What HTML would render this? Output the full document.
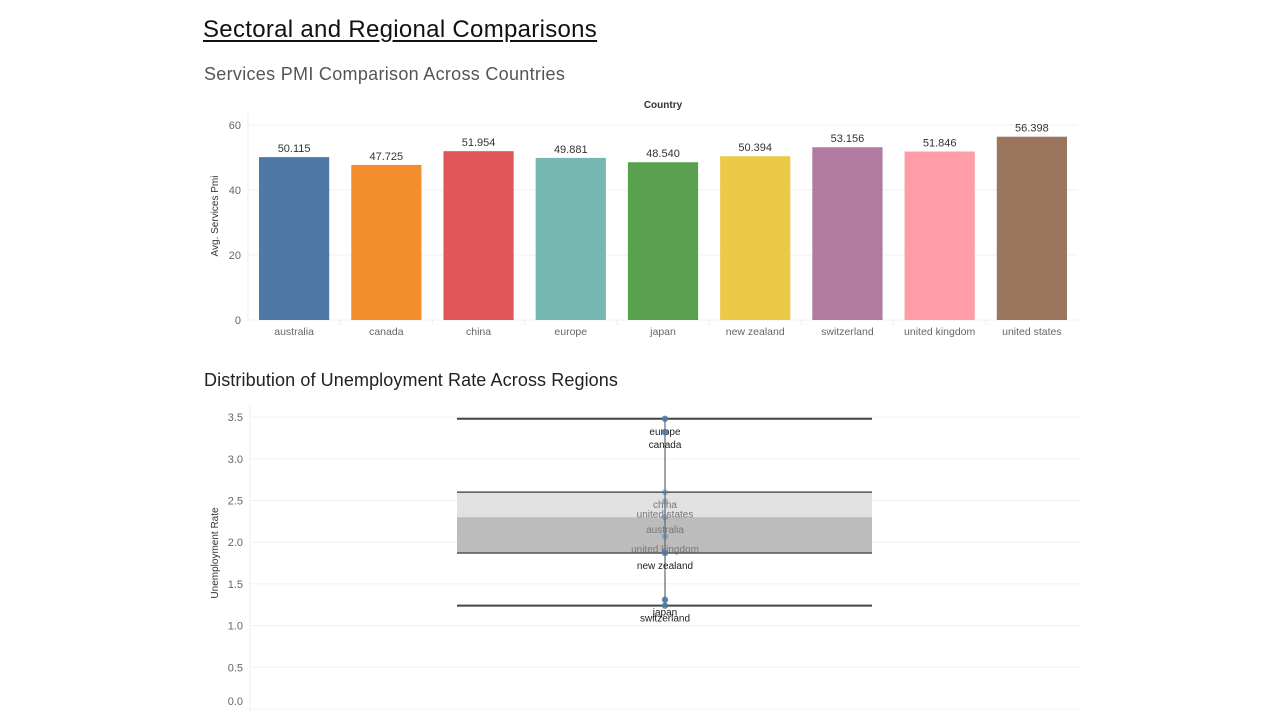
<!DOCTYPE html>
<html><head><meta charset="utf-8">
<style>
body{margin:0;width:1280px;height:720px;background:#fff;font-family:"Liberation Sans",sans-serif;overflow:hidden;position:relative}
.t{position:absolute;white-space:nowrap}
</style></head><body>
<div class="t" style="left:203px;top:16px;font-size:24px;letter-spacing:0.3px;color:#111;text-decoration:underline;text-underline-offset:3px">Sectoral and Regional Comparisons</div>
<div class="t" style="left:204px;top:64px;font-size:18px;letter-spacing:0.3px;color:#555">Services PMI Comparison Across Countries</div>
<div class="t" style="left:204px;top:370px;font-size:18px;letter-spacing:0.1px;color:#222">Distribution of Unemployment Rate Across Regions</div>
<svg id="bar" width="1280" height="720" style="position:absolute;left:0;top:0"></svg>
<script>
const categories=["australia","canada","china","europe","japan","new zealand","switzerland","united kingdom","united states"];
const pmiValues=[50.115,47.725,51.954,49.881,48.540,50.394,53.156,51.846,56.398];
const barColors=["#4e79a7","#f28e2b","#e15759","#76b7b2","#59a14f","#edc948","#b07aa1","#ff9da7","#9c755f"];
const pmiTicks=[0,20,40,60];
const unempRegions=["europe","canada","china","united states","australia","united kingdom","new zealand","japan","switzerland"];
const unempValues=[3.48,3.32,2.60,2.49,2.30,2.07,1.87,1.31,1.24];
const unempTicks=[0,0.5,1,1.5,2,2.5,3,3.5];

const svg=document.getElementById('bar');
const NS="http://www.w3.org/2000/svg";
function mk(tag,attrs,name,parent){const e=document.createElementNS(NS,tag);for(const k in attrs)e.setAttribute(k,attrs[k]);


(parent||svg).appendChild(e);return e;}
function txt(x,y,s,size,fill,anchor,name,extra){const e=mk('text',Object.assign({x:x,y:y,'font-size':size,fill:fill,'text-anchor':anchor||'middle','font-family':'Liberation Sans, sans-serif'},extra||{}),name);e.textContent=s;return e;}

// bar chart
const bx0=248,bx1=1078,by0=320,bpx=3.25;
const yB=v=>by0-v*bpx;
const band=(bx1-bx0)/categories.length;
txt(663,108,"Country",10,"#333","middle","x-axis-title",{'font-weight':'bold'});
mk('line',{x1:bx0,y1:114,x2:bx0,y2:322,stroke:'#eee'},'y-axis-line');
pmiTicks.forEach(t=>{
 mk('line',{x1:bx0,y1:yB(t),x2:bx1,y2:yB(t),stroke:'#f0f0f0'},'gridline');
 txt(241,yB(t)+4,String(t),11,"#666","end","y-tick-label");
});
txt(0,0,"Avg. Services Pmi",10,"#333","middle","y-axis-title",{transform:'translate(218,216) rotate(-90)'});
categories.forEach((c,i)=>{
 const x=bx0+band*i+11,w=band-22,v=pmiValues[i];
 mk('rect',{x:x,y:yB(v),width:w,height:v*bpx,fill:barColors[i]},'bar-'+c.replace(/ /g,'-'));
 txt(x+w/2,yB(v)-5,v.toFixed(3),11,"#333","middle","bar-value-label");
 txt(x+w/2,335,c,10.5,"#666","middle","x-tick-label");
 if(i>0)mk('line',{x1:bx0+band*i,y1:320,x2:bx0+band*i,y2:325,stroke:'#eee'},'x-tick');
});

// box plot
const uy0=709,upx=83.4,ux0=250,ux1=1080,bxL=457,bxR=872,cx=665;
const yU=v=>uy0-v*upx;
mk('line',{x1:ux0,y1:405,x2:ux0,y2:712,stroke:'#eee'},'y-axis-line-2');
unempTicks.forEach(t=>{
 mk('line',{x1:ux0,y1:yU(t),x2:ux1,y2:yU(t),stroke:'#f0f0f0'},'gridline-2');
 txt(243,Math.min(yU(t)+4,705),t.toFixed(1),11,"#666","end","y-tick-label-2");
});
txt(0,0,"Unemployment Rate",10,"#333","middle","y-axis-title-2",{transform:'translate(218,553) rotate(-90)'});
const s=[...unempValues].sort((a,b)=>a-b);
const q=p=>{const pos=p*(s.length-1),lo=Math.floor(pos),hi=Math.ceil(pos);return s[lo]+(s[hi]-s[lo])*(pos-lo);};
const q1=q(.25),med=q(.5),q3=q(.75),mn=s[0],mx=s[s.length-1];
mk('rect',{x:bxL,y:yU(q3),width:bxR-bxL,height:yU(med)-yU(q3),fill:'#e1e1e1'},'box-upper');
mk('rect',{x:bxL,y:yU(med),width:bxR-bxL,height:yU(q1)-yU(med),fill:'#bcbcbc'},'box-lower');
mk('line',{x1:cx,y1:yU(mx),x2:cx,y2:yU(mn),stroke:'#666','stroke-width':1.2},'whisker-line');
[q3,q1].forEach(v=>mk('line',{x1:bxL,y1:yU(v),x2:bxR,y2:yU(v),stroke:'#555','stroke-width':1.5},'box-edge'));
[mx,mn].forEach(v=>mk('line',{x1:bxL,y1:yU(v),x2:bxR,y2:yU(v),stroke:'#444','stroke-width':2},'whisker-cap'));
unempRegions.forEach((r,i)=>{
 const v=unempValues[i],inBox=v<=q3&&v>q1;
 mk('circle',{cx:cx,cy:yU(v),r:3.2,fill:'#4e79a7',opacity:inBox?0.45:0.9},'point-'+r.replace(/ /g,'-'));
 txt(cx,yU(v)+16,r,10,inBox?'#777':'#222',"middle","point-label");
});
</script>
</body></html>
